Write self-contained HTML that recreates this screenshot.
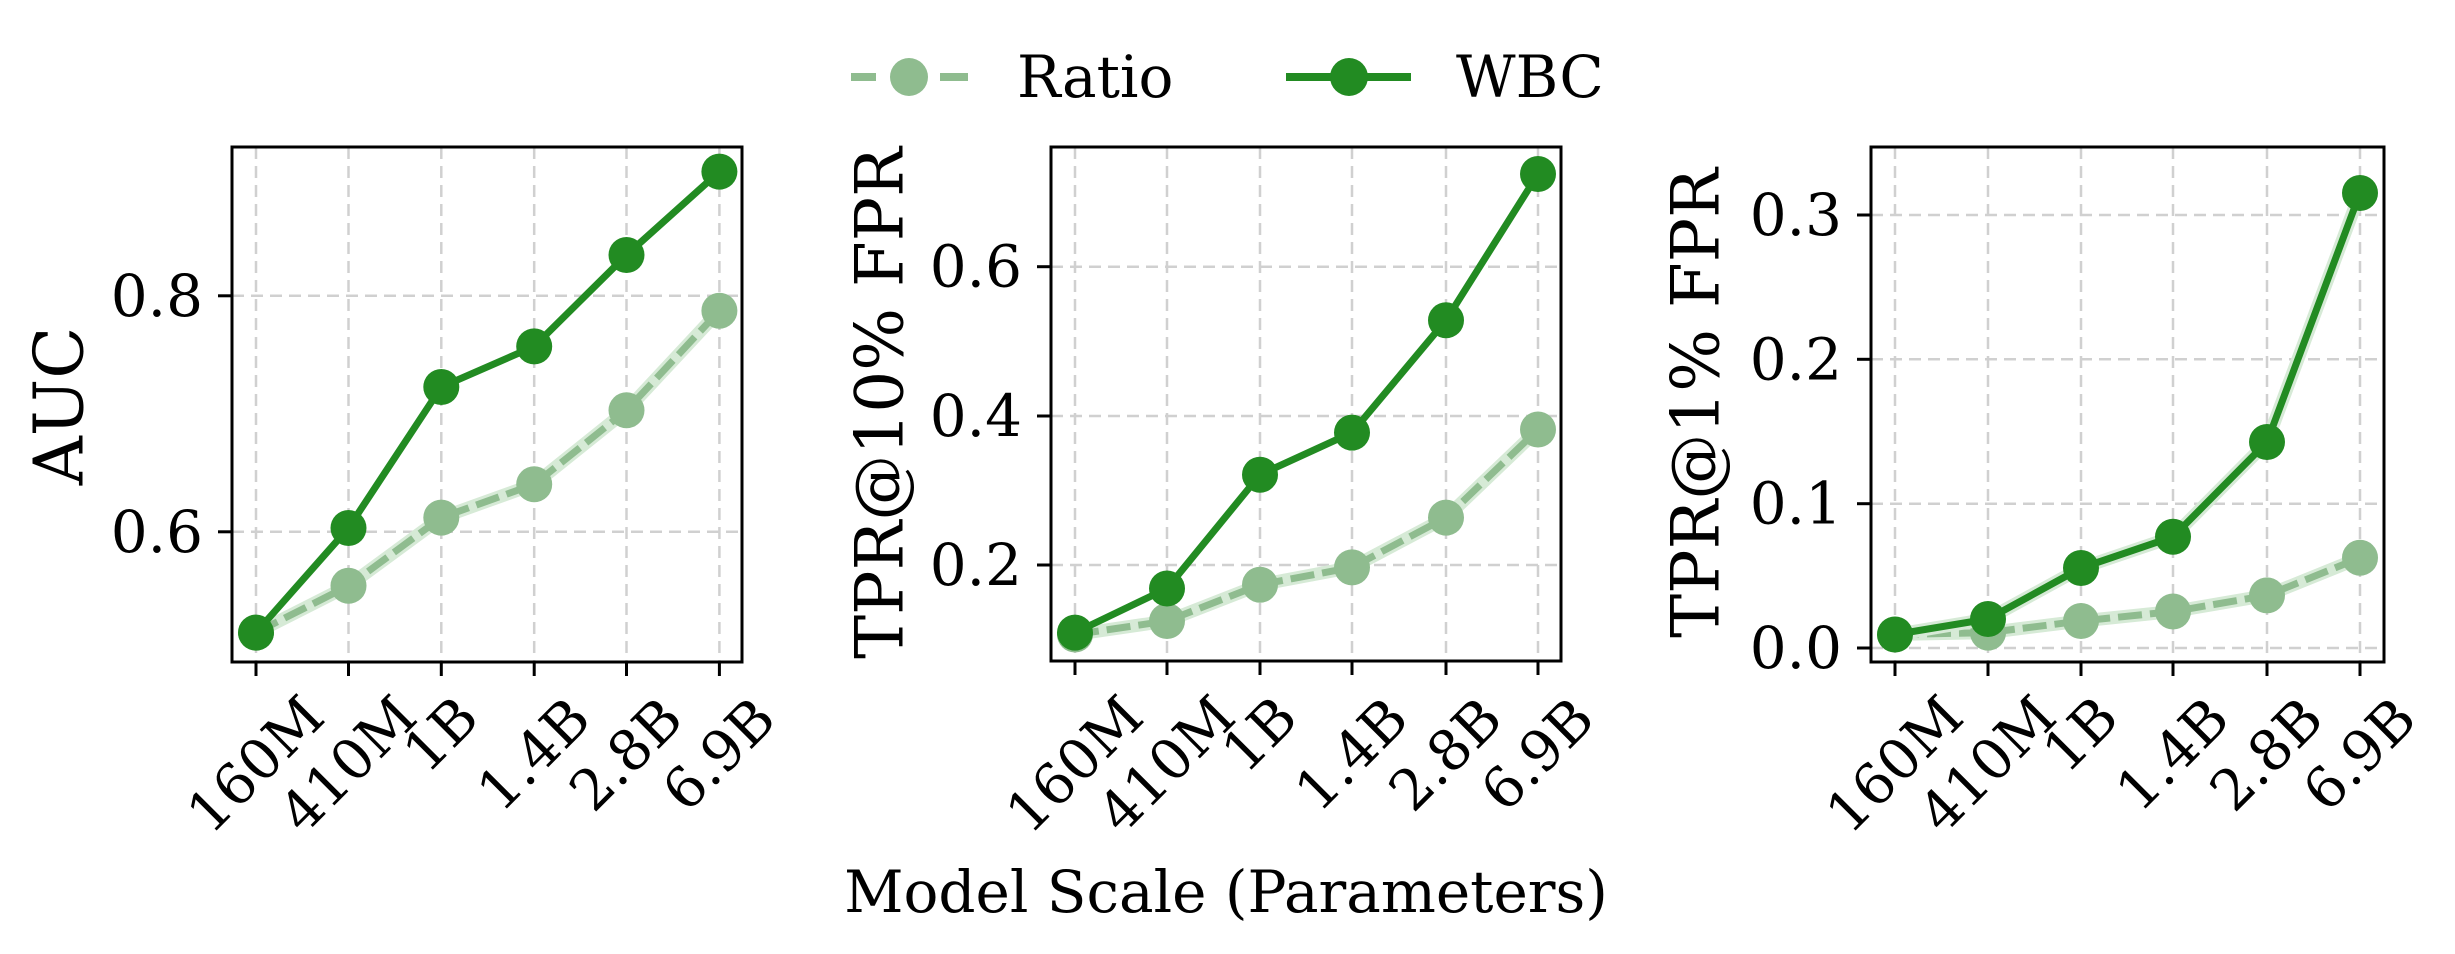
<!DOCTYPE html>
<html><head><meta charset="utf-8"><style>
html,body{margin:0;padding:0;background:#fff;}
svg{display:block;}
text{font-family:"DejaVu Serif","Liberation Serif",serif;fill:#000;}
.g{stroke:#d0d0d0;stroke-width:2.5;stroke-dasharray:12,7;fill:none;}
.ax{fill:none;stroke:#000;stroke-width:3;}
.tk{stroke:#000;stroke-width:3;}
.band{fill:none;stroke:#d6ead6;stroke-width:13;stroke-linejoin:round;}
.rl{fill:none;stroke:#8fbc8f;stroke-width:7;stroke-dasharray:24,8;}
.wl{fill:none;stroke:#228b22;stroke-width:7;stroke-linejoin:round;}
.rm{fill:#8fbc8f;}
.wm{fill:#228b22;}
.yt{font-size:58px;text-anchor:end;dominant-baseline:central;}
.xt{font-size:56px;text-anchor:middle;dominant-baseline:central;}
.yl{font-size:66px;text-anchor:middle;dominant-baseline:central;}
</style></head><body>
<svg width="2455" height="954" viewBox="0 0 2455 954" xmlns="http://www.w3.org/2000/svg">
<!-- Legend -->
<line x1="851" y1="77" x2="876" y2="77" stroke="#8fbc8f" stroke-width="8"/>
<line x1="940" y1="77" x2="968" y2="77" stroke="#8fbc8f" stroke-width="8"/>
<ellipse cx="909" cy="77" rx="19" ry="19" class="rm"/>
<text x="1017" y="97" font-size="58">Ratio</text>
<line x1="1286" y1="77" x2="1411" y2="77" stroke="#228b22" stroke-width="8"/>
<ellipse cx="1349" cy="77" rx="19" ry="19" class="wm"/>
<text x="1456" y="97" font-size="58">WBC</text>

<!-- Panel 1 -->
<g>
<line class="g" x1="256" y1="147" x2="256" y2="662"/><line class="g" x1="348.5" y1="147" x2="348.5" y2="662"/><line class="g" x1="441.3" y1="147" x2="441.3" y2="662"/><line class="g" x1="534.2" y1="147" x2="534.2" y2="662"/><line class="g" x1="626.5" y1="147" x2="626.5" y2="662"/><line class="g" x1="719.4" y1="147" x2="719.4" y2="662"/>
<line class="g" x1="232" y1="295.8" x2="742" y2="295.8"/><line class="g" x1="232" y1="531.8" x2="742" y2="531.8"/>
<polyline class="band" points="256,632.6 348.5,585.8 441.3,517.6 534.2,484.3 626.5,410.3 719.4,310.7"/>
<polyline class="rl" points="256,632.6 348.5,585.8 441.3,517.6 534.2,484.3 626.5,410.3 719.4,310.7"/>
<g class="rm"><circle cx="256" cy="632.6" r="18"/><circle cx="348.5" cy="585.8" r="18"/><circle cx="441.3" cy="517.6" r="18"/><circle cx="534.2" cy="484.3" r="18"/><circle cx="626.5" cy="410.3" r="18"/><circle cx="719.4" cy="310.7" r="18"/></g>
<polyline class="wl" points="256,632.6 348.5,528 441.3,387 534.2,346.4 626.5,255 719.4,171.6"/>
<g class="wm"><circle cx="256" cy="632.6" r="18"/><circle cx="348.5" cy="528" r="18"/><circle cx="441.3" cy="387" r="18"/><circle cx="534.2" cy="346.4" r="18"/><circle cx="626.5" cy="255" r="18"/><circle cx="719.4" cy="171.6" r="18"/></g>
<rect class="ax" x="232" y="147" width="510" height="515"/>
<line class="tk" x1="218" y1="295.8" x2="232" y2="295.8"/><line class="tk" x1="218" y1="531.8" x2="232" y2="531.8"/>
<text class="yt" x="203" y="295.8">0.8</text><text class="yt" x="203" y="531.8">0.6</text>
<line class="tk" x1="256" y1="662" x2="256" y2="676"/><line class="tk" x1="348.5" y1="662" x2="348.5" y2="676"/><line class="tk" x1="441.3" y1="662" x2="441.3" y2="676"/><line class="tk" x1="534.2" y1="662" x2="534.2" y2="676"/><line class="tk" x1="626.5" y1="662" x2="626.5" y2="676"/><line class="tk" x1="719.4" y1="662" x2="719.4" y2="676"/>
<text class="xt" transform="translate(256,765) rotate(-45)">160M</text>
<text class="xt" transform="translate(348.5,765) rotate(-45)">410M</text>
<text class="xt" transform="translate(441.3,735) rotate(-45)">1B</text>
<text class="xt" transform="translate(534.2,755) rotate(-45)">1.4B</text>
<text class="xt" transform="translate(626.5,755) rotate(-45)">2.8B</text>
<text class="xt" transform="translate(719.4,755) rotate(-45)">6.9B</text>
<text class="yl" style="font-size:68px" transform="translate(60,406) rotate(-90)">AUC</text>
</g>

<!-- Panel 2 -->
<g>
<line class="g" x1="1075" y1="147" x2="1075" y2="661"/><line class="g" x1="1167" y1="147" x2="1167" y2="661"/><line class="g" x1="1260" y1="147" x2="1260" y2="661"/><line class="g" x1="1352" y1="147" x2="1352" y2="661"/><line class="g" x1="1446" y1="147" x2="1446" y2="661"/><line class="g" x1="1538" y1="147" x2="1538" y2="661"/>
<line class="g" x1="1051" y1="266.7" x2="1561" y2="266.7"/><line class="g" x1="1051" y1="416" x2="1561" y2="416"/><line class="g" x1="1051" y1="565" x2="1561" y2="565"/>
<polyline class="band" points="1075,634.5 1167,621 1260,584.7 1352,567.4 1446,517.6 1538,429.5"/>
<polyline class="rl" points="1075,634.5 1167,621 1260,584.7 1352,567.4 1446,517.6 1538,429.5"/>
<g class="rm"><circle cx="1075" cy="634.5" r="18"/><circle cx="1167" cy="621" r="18"/><circle cx="1260" cy="584.7" r="18"/><circle cx="1352" cy="567.4" r="18"/><circle cx="1446" cy="517.6" r="18"/><circle cx="1538" cy="429.5" r="18"/></g>
<polyline class="wl" points="1075,632.6 1167,588.5 1260,474.7 1352,432.6 1446,320.3 1538,174"/>
<g class="wm"><circle cx="1075" cy="632.6" r="18"/><circle cx="1167" cy="588.5" r="18"/><circle cx="1260" cy="474.7" r="18"/><circle cx="1352" cy="432.6" r="18"/><circle cx="1446" cy="320.3" r="18"/><circle cx="1538" cy="174" r="18"/></g>
<rect class="ax" x="1051" y="147" width="510" height="514"/>
<line class="tk" x1="1037" y1="266.7" x2="1051" y2="266.7"/><line class="tk" x1="1037" y1="416" x2="1051" y2="416"/><line class="tk" x1="1037" y1="565" x2="1051" y2="565"/>
<text class="yt" x="1022" y="266.7">0.6</text><text class="yt" x="1022" y="416">0.4</text><text class="yt" x="1022" y="565">0.2</text>
<line class="tk" x1="1075" y1="661" x2="1075" y2="675"/><line class="tk" x1="1167" y1="661" x2="1167" y2="675"/><line class="tk" x1="1260" y1="661" x2="1260" y2="675"/><line class="tk" x1="1352" y1="661" x2="1352" y2="675"/><line class="tk" x1="1446" y1="661" x2="1446" y2="675"/><line class="tk" x1="1538" y1="661" x2="1538" y2="675"/>
<text class="xt" transform="translate(1075,765) rotate(-45)">160M</text>
<text class="xt" transform="translate(1167,765) rotate(-45)">410M</text>
<text class="xt" transform="translate(1260,735) rotate(-45)">1B</text>
<text class="xt" transform="translate(1352,755) rotate(-45)">1.4B</text>
<text class="xt" transform="translate(1446,755) rotate(-45)">2.8B</text>
<text class="xt" transform="translate(1538,755) rotate(-45)">6.9B</text>
<text class="yl" transform="translate(880,403) rotate(-90)">TPR@10% FPR</text>
</g>

<!-- Panel 3 -->
<g>
<line class="g" x1="1895" y1="147" x2="1895" y2="662"/><line class="g" x1="1988" y1="147" x2="1988" y2="662"/><line class="g" x1="2081" y1="147" x2="2081" y2="662"/><line class="g" x1="2173" y1="147" x2="2173" y2="662"/><line class="g" x1="2267" y1="147" x2="2267" y2="662"/><line class="g" x1="2360" y1="147" x2="2360" y2="662"/>
<line class="g" x1="1871" y1="215" x2="2384" y2="215"/><line class="g" x1="1871" y1="359.3" x2="2384" y2="359.3"/><line class="g" x1="1871" y1="503.7" x2="2384" y2="503.7"/><line class="g" x1="1871" y1="648" x2="2384" y2="648"/>
<polyline class="band" points="1895,634.5 1988,632.6 2081,621 2173,611.5 2267,595.4 2360,557.8"/>
<polyline class="rl" points="1895,634.5 1988,632.6 2081,621 2173,611.5 2267,595.4 2360,557.8"/>
<g class="rm"><circle cx="1895" cy="634.5" r="18"/><circle cx="1988" cy="632.6" r="18"/><circle cx="2081" cy="621" r="18"/><circle cx="2173" cy="611.5" r="18"/><circle cx="2267" cy="595.4" r="18"/><circle cx="2360" cy="557.8" r="18"/></g>
<polyline class="band" points="1895,634.5 1988,619 2081,568 2173,536.8 2267,442 2360,193"/>
<polyline class="wl" points="1895,634.5 1988,619 2081,568 2173,536.8 2267,442 2360,193"/>
<g class="wm"><circle cx="1895" cy="634.5" r="18"/><circle cx="1988" cy="619" r="18"/><circle cx="2081" cy="568" r="18"/><circle cx="2173" cy="536.8" r="18"/><circle cx="2267" cy="442" r="18"/><circle cx="2360" cy="193" r="18"/></g>
<rect class="ax" x="1871" y="147" width="513" height="515"/>
<line class="tk" x1="1857" y1="215" x2="1871" y2="215"/><line class="tk" x1="1857" y1="359.3" x2="1871" y2="359.3"/><line class="tk" x1="1857" y1="503.7" x2="1871" y2="503.7"/><line class="tk" x1="1857" y1="648" x2="1871" y2="648"/>
<text class="yt" x="1842" y="215">0.3</text><text class="yt" x="1842" y="359.3">0.2</text><text class="yt" x="1842" y="503.7">0.1</text><text class="yt" x="1842" y="648">0.0</text>
<line class="tk" x1="1895" y1="662" x2="1895" y2="676"/><line class="tk" x1="1988" y1="662" x2="1988" y2="676"/><line class="tk" x1="2081" y1="662" x2="2081" y2="676"/><line class="tk" x1="2173" y1="662" x2="2173" y2="676"/><line class="tk" x1="2267" y1="662" x2="2267" y2="676"/><line class="tk" x1="2360" y1="662" x2="2360" y2="676"/>
<text class="xt" transform="translate(1895,765) rotate(-45)">160M</text>
<text class="xt" transform="translate(1988,765) rotate(-45)">410M</text>
<text class="xt" transform="translate(2081,735) rotate(-45)">1B</text>
<text class="xt" transform="translate(2173,755) rotate(-45)">1.4B</text>
<text class="xt" transform="translate(2267,755) rotate(-45)">2.8B</text>
<text class="xt" transform="translate(2360,755) rotate(-45)">6.9B</text>
<text class="yl" transform="translate(1696,403) rotate(-90)">TPR@1% FPR</text>
</g>

<text x="1226" y="912" font-size="58" text-anchor="middle">Model Scale (Parameters)</text>
</svg>
</body></html>
